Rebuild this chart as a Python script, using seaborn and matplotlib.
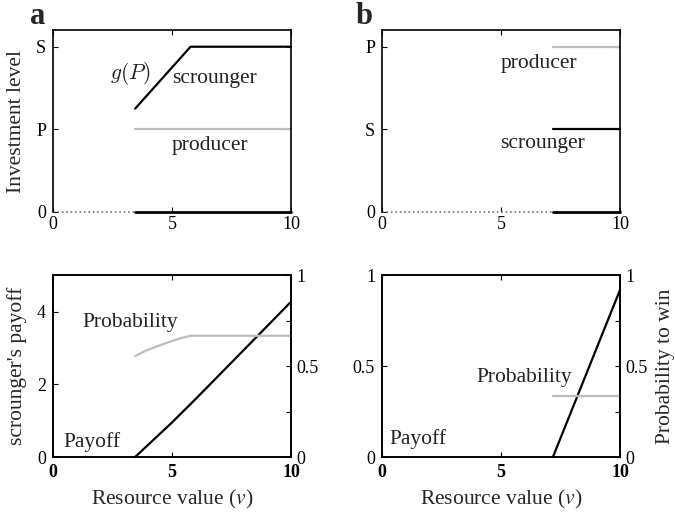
import numpy as np
import pandas as pd
import matplotlib.pyplot as plt
import seaborn as sns

# ---- data ----
# panel a (top): investment level vs resource value
a_g_v = [3.45, 5.78, 10]
a_g_y = [1.25, 2.0, 2.0]          # g(P), scrounger investment (S = 2, P = 1)
a_prod_v = [3.45, 10]
a_prod_y = [1.0, 1.0]
a_start = 3.45

# panel b (top)
b_prod_v = [7.18, 10]
b_prod_y = [2.0, 2.0]             # producer at P level (top)
b_scr_v = [7.18, 10]
b_scr_y = [1.0, 1.0]              # scrounger at S level
b_start = 7.18

# panel a (bottom): scrounger's payoff and probability to win
a_pay_v = [3.45, 5.0, 6.0, 7.5, 8.7, 10.0]
a_pay_y = [0.0, 0.95, 1.6, 2.6, 3.4, 4.27]
a_prob_v = [3.45, 3.95, 4.5, 5.0, 5.4, 5.78, 10.0]
a_prob_y = [0.555, 0.588, 0.615, 0.638, 0.655, 0.667, 0.667]

# panel b (bottom)
b_pay_v = [7.18, 10.0]
b_pay_y = [0.0, 0.92]
b_prob_v = [7.18, 10.0]
b_prob_y = [0.333, 0.333]

sns.set_style("ticks")
plt.rcParams['font.family'] = ['Liberation Serif', 'DejaVu Serif']
plt.rcParams['axes.linewidth'] = 1.2
plt.rcParams['xtick.direction'] = 'in'
plt.rcParams['ytick.direction'] = 'in'
plt.rcParams['xtick.major.size'] = 3.5
plt.rcParams['ytick.major.size'] = 3.5
plt.rcParams['xtick.color'] = 'black'
plt.rcParams['ytick.color'] = 'black'
plt.rcParams['axes.edgecolor'] = 'black'

GREY = '#bdbdbd'
TXT = '#222222'
FS = 15.5
TFS = 13

fig = plt.figure(figsize=(6.75, 5.12), dpi=100)
w, h = 0.3526, 0.355
ax_a = fig.add_axes([0.0785, 0.586, w, h])
ax_b = fig.add_axes([0.566, 0.586, w, h])
ax_c = fig.add_axes([0.0785, 0.1074, w, h])
ax_d = fig.add_axes([0.566, 0.1074, w, h])


def line(ax, x, y, color='black', lw=1.6, ls='-'):
    sns.lineplot(x=x, y=y, ax=ax, color=color, lw=lw, ls=ls,
                 estimator=None, clip_on=False)


# ---------- top panels ----------
for ax, start in [(ax_a, a_start), (ax_b, b_start)]:
    ax.set_xlim(0, 10)
    ax.set_ylim(0, 2.2)
    ax.spines['bottom'].set_visible(False)
    line(ax, [0, start], [0, 0], color='#777777', lw=1.2, ls=':')
    line(ax, [start, 10], [0, 0], color='black', lw=2.0)
    ax.set_xticks([0, 5, 10])
    ax.set_xticklabels(['0', '5', '10'], fontsize=TFS)
    ax.set_yticks([0, 1, 2])
    ax.tick_params(axis='x', top=True, pad=3)
    ax.tick_params(axis='y', right=True, pad=5, labelsize=TFS)

line(ax_a, a_g_v, a_g_y)
line(ax_a, a_prod_v, a_prod_y, color=GREY)
ax_a.set_yticklabels(['0', 'P', 'S'])
ax_a.set_ylabel('Investment level', fontsize=FS, labelpad=7)
ax_a.text(2.4, 1.68, '$g(P)$', fontsize=FS, math_fontfamily='cm',
          color=TXT, va='center')
ax_a.text(5.0, 1.62, 'scrounger', fontsize=FS, color=TXT, va='center')
ax_a.text(5.0, 0.8, 'producer', fontsize=FS, color=TXT, va='center')

line(ax_b, b_prod_v, b_prod_y, color=GREY)
line(ax_b, b_scr_v, b_scr_y)
ax_b.set_yticklabels(['0', 'S', 'P'])
ax_b.text(4.98, 1.8, 'producer', fontsize=FS, color=TXT, va='center')
ax_b.text(4.98, 0.83, 'scrounger', fontsize=FS, color=TXT, va='center')

# ---------- bottom panels ----------
for ax in (ax_c, ax_d):
    ax.set_xlim(0, 10)
    ax.set_xticks([0, 5, 10])
    ax.set_xticklabels(['0', '5', '10'], fontsize=TFS, fontweight='bold')
    ax.tick_params(axis='x', top=True, pad=5)
    ax.tick_params(axis='y', right=True, labelright=False, pad=5, labelsize=TFS)

ax_c.set_ylim(0, 5)
ax_c.set_yticks([0, 2, 4])
line(ax_c, a_pay_v, a_pay_y)
ax_c.set_ylabel("scrounger's payoff", fontsize=FS, labelpad=7)
ax_c.text(1.25, 3.7, 'Probability', fontsize=FS, color=TXT, va='center')
ax_c.text(0.42, 0.42, 'Payoff', fontsize=FS, color=TXT, va='center')
ax_c2 = ax_c.twinx()
ax_c2.set_ylim(0, 1)
line(ax_c2, a_prob_v, a_prob_y, color=GREY)

ax_d.set_ylim(0, 1)
ax_d.set_yticks([0, 0.5, 1])
ax_d.set_yticklabels(['0', '0.5', '1'])
line(ax_d, b_pay_v, b_pay_y)
ax_d.text(3.98, 0.44, 'Probability', fontsize=FS, color=TXT, va='center')
ax_d.text(0.3, 0.1, 'Payoff', fontsize=FS, color=TXT, va='center')
ax_d2 = ax_d.twinx()
ax_d2.set_ylim(0, 1)
line(ax_d2, b_prob_v, b_prob_y, color=GREY)

for ax2 in (ax_c2, ax_d2):
    ax2.set_yticks([0, 0.25, 0.5, 0.75, 1])
    ax2.set_yticklabels(['0', '', '0.5', '', '1'])
    ax2.tick_params(axis='y', direction='in', pad=4, labelsize=TFS)
    ax2.set_ylabel('')

ax_d2.set_ylabel('Probability to win', fontsize=FS, labelpad=6)

for ax in (ax_c, ax_d):
    ax.set_xlabel('Resource value ($v$)', fontsize=FS, labelpad=5,
                  math_fontfamily='stix')

for ax in (ax_a, ax_b, ax_c, ax_d, ax_c2, ax_d2):
    for s in ax.spines.values():
        if s.get_visible():
            s.set_linewidth(1.2)
    if ax.get_legend():
        ax.get_legend().remove()

fig.text(0.044, 0.953, 'a', fontsize=22, fontweight='bold')
fig.text(0.527, 0.953, 'b', fontsize=22, fontweight='bold')

fig.savefig('out.png', dpi=100)
